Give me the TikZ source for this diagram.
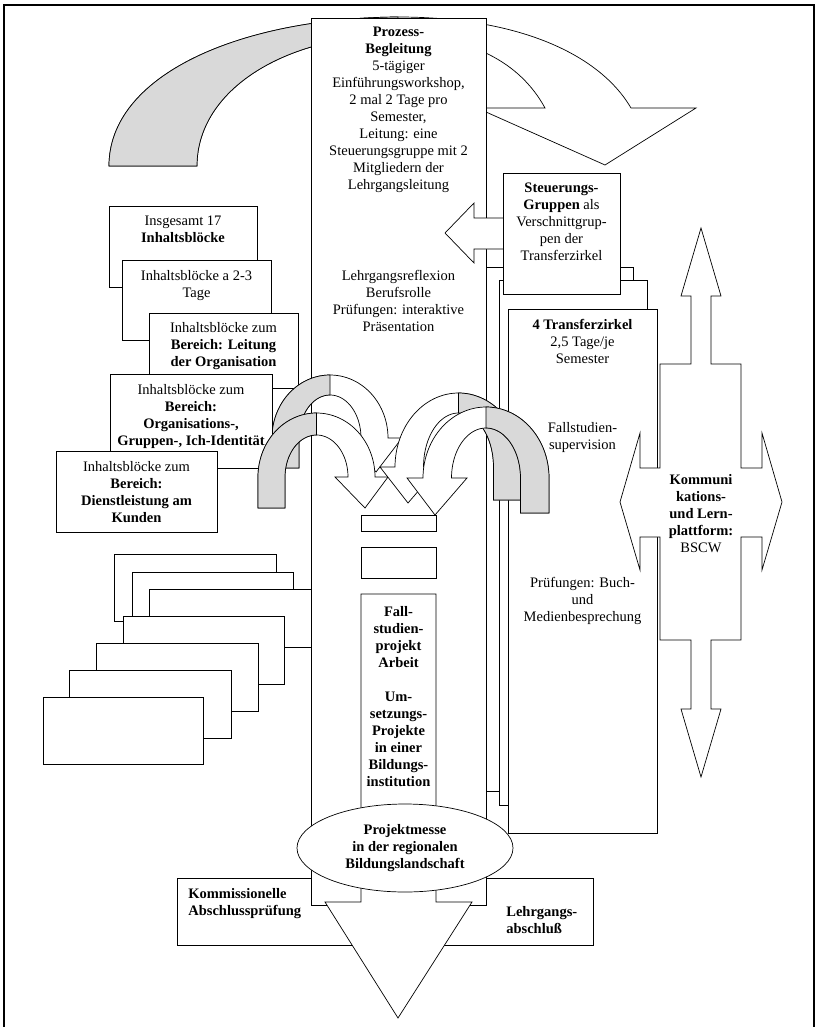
\documentclass[tikz,border=0pt]{standalone}
\usepackage{fontspec}
\setmainfont{Liberation Serif}
\usetikzlibrary{shapes.geometric}
\definecolor{band}{gray}{0.85}
\newcommand\fs{\fontsize{14.5}{17}\selectfont}
% curved 3D arrow. #1 side (1: foot left, -1: foot right), #2 cx, #3 cy, #4 ro, #5 Ro, #6 ri, #7 Ri, #8 foot y
% head given by \hout, \hin, \tipx, \tipy
\newcommand{\carr}[8]{%
 \filldraw[fill=white] ({#2-(#1)*#4},#8) -- plot[domain=0:180,samples=60,variable=\t] ({#2-(#1)*#4*cos(\t)},{#3-#5*sin(\t)}) -- (\hout,#3) -- (\tipx,\tipy) -- (\hin,#3) -- plot[domain=180:0,samples=60,variable=\t] ({#2-(#1)*#6*cos(\t)},{#3-#7*sin(\t)}) -- ({#2-(#1)*#6},#8) -- cycle;
 \filldraw[fill=band] ({#2-(#1)*#4},#8) -- plot[domain=0:90,samples=40,variable=\t] ({#2-(#1)*#4*cos(\t)},{#3-#5*sin(\t)}) -- plot[domain=90:0,samples=40,variable=\t] ({#2-(#1)*#6*cos(\t)},{#3-#7*sin(\t)}) -- ({#2-(#1)*#6},#8) -- cycle;
}
\begin{document}
\begin{tikzpicture}[x=1pt,y=-1pt,line width=0.7pt,
  txt/.style={font=\fs,align=center,inner sep=0pt,anchor=north},
  box/.style={draw,fill=white}]
\useasboundingbox (0,0) rectangle (818,1027);
\fill[white] (0,0) rectangle (818,1027);
% frame
\draw[line width=2pt] (4,1030) -- (4,5) -- (814,5) -- (814,1030);

% top curved arrow
\filldraw[fill=white] (109,166) .. controls (109,75) and (240,18) .. (398,17)
  .. controls (520,17) and (600,55) .. (631,108) -- (696,108) -- (605,165) -- (477,108) -- (545,108)
  .. controls (520,62) and (470,36) .. (398,35) .. controls (285,35) and (197,90) .. (197,166) -- cycle;
\filldraw[fill=band] (109,166) .. controls (109,75) and (240,18) .. (398,17) -- (398,35)
  .. controls (285,35) and (197,90) .. (197,166) -- cycle;

% bottom box
\draw[box] (177,878) rectangle (593,945);

% left upper boxes
\draw[box] (109,206) rectangle (257,287);
\draw[box] (122,260) rectangle (271,340);
\draw[box] (149,313) rectangle (298,388);

% left lower stack
\draw[box] (114,554) rectangle (276,621);
\draw[box] (132,572) rectangle (293,639);
\draw[box] (149,589) rectangle (311,647);
\draw[box] (123,616) rectangle (284,684);
\draw[box] (96,643) rectangle (258,711);
\draw[box] (69,670) rectangle (231,738);
\draw[box] (43,697) rectangle (203,764);

% transfer boxes
\draw[box] (486,267) rectangle (633,791);
\draw[box] (499,280) rectangle (647,805);
\draw[box] (508,309) rectangle (657,833);

% main column
\draw[box] (311,18) rectangle (486,905);

% Steuerungs arrow and box
\draw[box] (503,218) -- (474,218) -- (474,203) -- (445,233) -- (474,263) -- (474,249) -- (503,249);
\draw[box] (503,173) rectangle (620,294);

% inner column elements
\draw[box] (361,515) rectangle (436,531);
\draw[box] (361,547) rectangle (436,578);
\draw[box] (361,594) -- (436,594) -- (436,902) -- (472,902) -- (398,1018) -- (325,902) -- (361,902) -- cycle;

% curved arrows
\def\hout{402}\def\hin{346}\def\tipx{376}\def\tipy{472}
\carr{1}{330}{438}{58}{63}{31}{43}{468}
\draw[box] (110,374) rectangle (272,468);
\draw[box] (56,451) rectangle (217,532);
\def\hout{388}\def\hin{335}\def\tipx{365}\def\tipy{508}
\carr{1}{316.5}{477}{58.5}{64}{31.5}{42}{508}
\def\hout{380}\def\hin{439}\def\tipx{408}\def\tipy{503}
\carr{-1}{458.5}{467}{63.5}{74}{35}{54}{500}
\def\hout{407}\def\hin{467}\def\tipx{435}\def\tipy{515}
\carr{-1}{486}{478}{63}{71}{34.5}{50}{513}

% ellipse
\node[draw,ellipse,fill=white,minimum width=216pt,minimum height=88pt,inner sep=0pt,font=\fs\bfseries,align=center] (messe) at (405,848) {Projektmesse\\in der regionalen\\Bildungslandschaft};

% double arrow
\draw[box] (701,228) -- (721,296) -- (711,296) -- (711,364) -- (741,364) -- (741,468) -- (762,468) -- (762,433) -- (782,502) -- (762,570) -- (762,537) -- (741,537) -- (741,640) -- (711,640) -- (711,709) -- (721,709) -- (701,777) -- (681,709) -- (691,709) -- (691,640) -- (660,640) -- (660,537) -- (640,537) -- (640,570) -- (620,502) -- (640,433) -- (640,468) -- (660,468) -- (660,364) -- (691,364) -- (691,296) -- (681,296) -- cycle;

% texts
\node[txt] (pb) at (398.5,27) {\textbf{Prozess-}\\\textbf{Begleitung}\\5-tägiger\\Einführungsworkshop,\\2 mal 2 Tage pro\\Semester,\\Leitung: eine\\Steuerungsgruppe mit 2\\Mitgliedern der\\Lehrgangsleitung};
\node[txt] (lr) at (398.5,270) {Lehrgangsreflexion\\Berufsrolle\\Prüfungen: interaktive\\Präsentation};
\node[txt] (ta) at (183,216) {Insgesamt 17\\\textbf{Inhaltsblöcke}};
\node[txt] (tb) at (196.5,270) {Inhaltsblöcke a 2-3\\Tage};
\node[txt] (tc) at (223.5,322) {Inhaltsblöcke zum\\\textbf{Bereich: Leitung}\\\textbf{der Organisation}};
\node[txt] (td) at (191,384) {Inhaltsblöcke zum\\\textbf{Bereich:}\\\textbf{Organisations-,}\\\textbf{Gruppen-, Ich-Identität}};
\node[txt] (te) at (136.5,461) {Inhaltsblöcke zum\\\textbf{Bereich:}\\\textbf{Dienstleistung am}\\\textbf{Kunden}};
\node[txt] (sg) at (561.5,183) {\textbf{Steuerungs-}\\\textbf{Gruppen} als\\Verschnittgrup-\\pen der\\Transferzirkel};
\node[txt] (tz) at (582.5,319) {\textbf{4 Transferzirkel}\\2,5 Tage/je\\Semester};
\node[txt] (fs) at (582.5,422) {Fallstudien-\\supervision};
\node[txt] (pr) at (582.5,577) {Prüfungen: Buch-\\und\\Medienbesprechung};
\node[txt,font=\fs\bfseries] (fa) at (398.5,606) {Fall-\\studien-\\projekt\\Arbeit};
\node[txt,font=\fs\bfseries] (um) at (398.5,692) {Um-\\setzungs-\\Projekte\\in einer\\Bildungs-\\institution};
\node[txt] (ko) at (701,474) {\textbf{Kommuni}\\\textbf{kations-}\\\textbf{und Lern-}\\\textbf{plattform:}\\BSCW};
\node[txt,font=\fs\bfseries,align=left,anchor=north west] (ka) at (188,888) {Kommissionelle\\Abschlussprüfung};
\node[txt,font=\fs\bfseries,align=left,anchor=north west] (la) at (506,906) {Lehrgangs-\\abschluß};
\end{tikzpicture}
\end{document}
